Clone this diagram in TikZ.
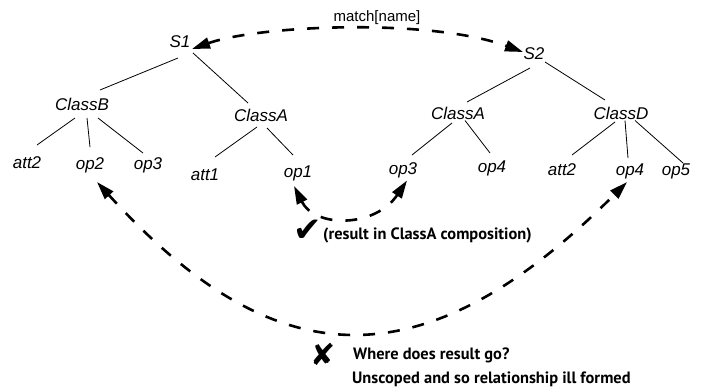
\documentclass[tikz,border=0pt]{standalone}
\usepackage{fontspec}
\setmainfont{Liberation Sans}
\newfontfamily\comicfont{PT Sans}
\newfontfamily\symfont{DejaVu Sans}
\usetikzlibrary{arrows.meta}
\begin{document}
\begin{tikzpicture}[x=1pt,y=-1pt,
  tn/.style={font=\fontsize{17}{20}\selectfont\itshape, inner sep=2pt, text height=12pt, text depth=0pt},
  edge/.style={line width=0.8pt},
  dasharr/.style={line width=2.6pt, dash pattern=on 12pt off 13pt,
    {Triangle[length=18pt,width=11pt]}-{Triangle[length=18pt,width=11pt]}},
  note/.style={font=\comicfont\bfseries\fontsize{16.4}{18}\selectfont, inner sep=0pt, anchor=west},
  symb/.style={inner sep=0pt}]
\useasboundingbox (0,0) rectangle (701,388);

% tree nodes
\node[tn] (S1) at (180,41) {S1};
\node[tn] (S2) at (534,53.5) {S2};
\node[tn] (ClassB) at (82,104.5) {ClassB};
\node[tn] (ClassAL) at (261,115) {ClassA};
\node[tn] (ClassAR) at (458,113.5) {ClassA};
\node[tn] (ClassD) at (621,113.5) {ClassD};
\node[tn] (att2L) at (27,162.5) {att2};
\node[tn] (op2) at (90,163.5) {op2};
\node[tn] (op3L) at (148,163.5) {op3};
\node[tn] (att1) at (205,174) {att1};
\node[tn] (op1) at (298,171) {op1};
\node[tn] (op3R) at (403,168.5) {op3};
\node[tn] (op4R) at (492,166.5) {op4};
\node[tn] (att2R) at (562,169) {att2};
\node[tn] (op4D) at (630,169.5) {op4};
\node[tn] (op5) at (676,169.5) {op5};

% tree edges
\draw[edge] ([shift={(-2,17)}]S1.center) -- ([shift={(18,-14.5)}]ClassB.center);
\draw[edge] ([shift={(13,12)}]S1.center) -- ([shift={(-13,-12)}]ClassAL.center);
\draw[edge] ([shift={(-4,14.5)}]S2.center) -- ([shift={(9,-11.5)}]ClassAR.center);
\draw[edge] ([shift={(11,8.5)}]S2.center) -- ([shift={(-16,-13.5)}]ClassD.center);
\draw[edge] ([shift={(-7,13.5)}]ClassB.center) -- ([shift={(10,-17.5)}]att2L.center);
\draw[edge] ([shift={(5,13.5)}]ClassB.center) -- ([shift={(0,-16.5)}]op2.center);
\draw[edge] ([shift={(16,13.5)}]ClassB.center) -- ([shift={(-5,-10.5)}]op3L.center);
\draw[edge] ([shift={(-4,12)}]ClassAL.center) -- ([shift={(10,-17)}]att1.center);
\draw[edge] ([shift={(6,13)}]ClassAL.center) -- ([shift={(-5,-16)}]op1.center);
\draw[edge] ([shift={(-6,9.5)}]ClassAR.center) -- ([shift={(9,-13.5)}]op3R.center);
\draw[edge] ([shift={(7,7)}]ClassAR.center) -- ([shift={(-2,-13.5)}]op4R.center);
\draw[edge] ([shift={(-6,8.5)}]ClassD.center) -- ([shift={(10,-14)}]att2R.center);
\draw[edge] ([shift={(4,7)}]ClassD.center) -- ([shift={(-2,-11.5)}]op4D.center);
\draw[edge] ([shift={(14,7)}]ClassD.center) -- ([shift={(7,-6.5)}]op5.center);

% label on top arc
\node[font=\fontsize{15}{17}\selectfont, inner sep=0pt] (match) at (377,17.5) {match[name]};

% dashed arrows
\draw[dasharr] ([shift={(12,8)}]S1.center) .. controls (260,25) and (430,18) .. ([shift={(-11,-1.5)}]S2.center);
\draw[dasharr] ([shift={(-4,15)}]op1.center) .. controls (315,228) and (375,228) .. ([shift={(4,12)}]op3R.center);
\draw[dasharr] ([shift={(7,18.5)}]op2.center) .. controls (272,374.5) and (420,389) .. ([shift={(-3,12.5)}]op4D.center);

% marks and notes
\node[symb, font=\symfont\fontsize{34}{34}\selectfont] (chk) at (308,231) {✔};
\node[note] (res) at (323,235) {(result in ClassA composition)};
\node[symb, font=\symfont\fontsize{30}{30}\selectfont] (xm) at (323,354) {✘};
\node[note] (where) at (353,355) {Where does result go?};
\node[note] (unsc) at (352,379) {Unscoped and so relationship ill formed};
\end{tikzpicture}
\end{document}
